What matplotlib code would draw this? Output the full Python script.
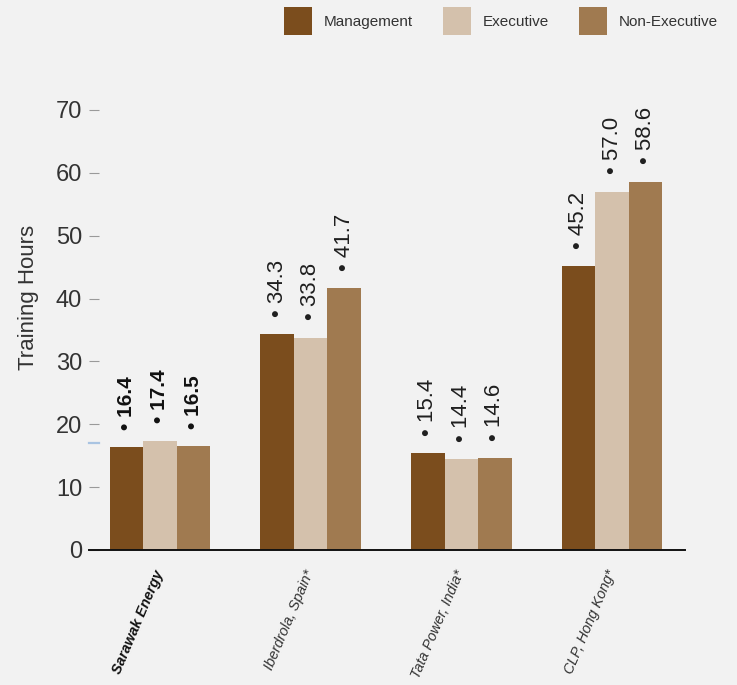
import matplotlib
matplotlib.use("Agg")
import matplotlib.pyplot as plt
import matplotlib.transforms as mtransforms
import numpy as np

plt.rcParams["font.family"] = ["Liberation Sans", "DejaVu Sans"]

# Average training hours per employee category
companies = ["Sarawak Energy", "Iberdrola, Spain*", "Tata Power, India*", "CLP, Hong Kong*"]
series_names = ["Management", "Executive", "Non-Executive"]
management = [16.4, 34.3, 15.4, 45.2]
executive = [17.4, 33.8, 14.4, 57.0]
non_executive = [16.5, 41.7, 14.6, 58.6]
y_ticks = [0, 10, 20, 30, 40, 50, 60, 70]
sarawak_marker = 17.1

colors = ["#7B4D1D", "#D4C1AC", "#A07A50"]
bg = "#F2F2F2"

fig = plt.figure(figsize=(7.37, 6.85), dpi=100, facecolor=bg)
ax = fig.add_axes([89 / 737, 135 / 685, 596 / 737, 440 / 685], facecolor=bg)

x = np.arange(len(companies))
width = 0.222
all_series = [management, executive, non_executive]
for i, (vals, col, name) in enumerate(zip(all_series, colors, series_names)):
    xs = x + (i - 1) * width
    ax.bar(xs, vals, width=width, color=col, label=name, zorder=2)
    for j, (xx, v) in enumerate(zip(xs, vals)):
        home = j == 0
        ax.annotate(
            f"\u2022 {v:.1f}",
            xy=(xx, v),
            xytext=(0, 12.5),
            textcoords="offset points",
            rotation=90,
            ha="center",
            va="bottom",
            fontsize=15 if home else 16,
            fontweight="bold" if home else "normal",
            color="#111111" if home else "#1f1f1f",
            annotation_clip=False,
        )

ax.set_xlim(-0.471, 3.484)
ax.set_ylim(0, 70)

for side in ["top", "right", "left"]:
    ax.spines[side].set_visible(False)
ax.spines["bottom"].set_color("#111111")
ax.spines["bottom"].set_linewidth(1.4)
ax.spines["bottom"].set_zorder(3)

ax.set_yticks(y_ticks)
ax.set_yticklabels([str(t) for t in y_ticks])
ax.tick_params(axis="y", direction="in", length=7.5, width=0.8, color="#9a9a9a",
               pad=5, labelsize=17, labelcolor="#333333")

# Company names below the axis
ax.set_xticks(x)
ax.set_xticklabels(companies, rotation=67, rotation_mode="anchor",
                   ha="right", va="center", fontsize=10.4, style="italic",
                   color="#333333")
ax.tick_params(axis="x", length=0, pad=15)
first = ax.get_xticklabels()[0]
first.set_fontweight("bold")
first.set_color("#111111")

# Highlight mark on the value axis
blend = mtransforms.blended_transform_factory(ax.transAxes, ax.transData)
ax.plot([0, 10 / 596], [sarawak_marker, sarawak_marker], transform=blend,
        color="#A9C4E2", linewidth=1.6, clip_on=False, zorder=4)

ax.set_ylabel("Training Hours", fontsize=16, color="#333333", va="center")
ax.yaxis.set_label_coords(-0.102, 0.573)

fig.legend(loc="upper right", bbox_to_anchor=(718 / 737, 1 - 7 / 685),
           ncol=3, frameon=False, fontsize=11, handlelength=1.83,
           handleheight=2.44, handletextpad=0.78, columnspacing=1.96,
           borderpad=0, borderaxespad=0, labelcolor="#333333")

fig.savefig("out.png", dpi=100, facecolor=bg)
